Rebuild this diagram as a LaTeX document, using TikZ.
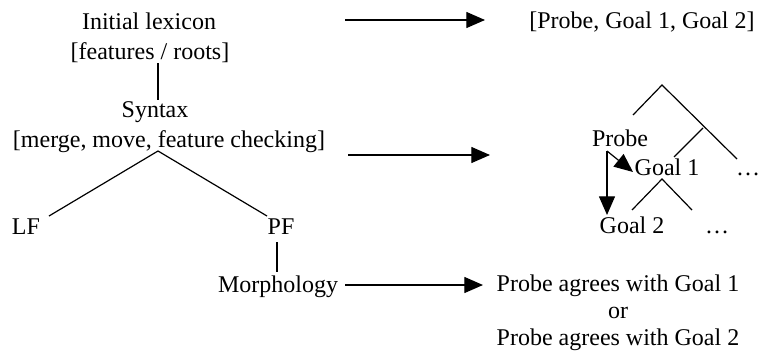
\documentclass[tikz,border=0pt]{standalone}
\usepackage{fontspec}
\setmainfont{Liberation Serif}
\usetikzlibrary{arrows.meta}
\begin{document}
\begin{tikzpicture}[x=0.75pt,y=-0.75pt,
  lbl/.style={font=\fontsize{18}{21}\selectfont, inner sep=0pt, anchor=base},
  ln/.style={line width=0.9pt},
  arr/.style={line width=0.9pt, -{Triangle[length=14pt,width=12pt]}}]
\useasboundingbox (0,0) rectangle (760,358);
% left derivation
\node[lbl] (lex1) at (149,29) {Initial lexicon};
\node[lbl] (lex2) at (150,59) {[features / roots]};
\node[lbl] (syn1) at (155,117) {Syntax};
\node[lbl] (syn2) at (169,147) {[merge, move, feature checking]};
\node[lbl] (lf) at (26,234) {LF};
\node[lbl] (pf) at (281,234) {PF};
\node[lbl] (morph) at (278,292) {Morphology};
\coordinate (l1a) at (158,63);
\coordinate (l1b) at (158,100);
\coordinate (apex) at (158,151);
\coordinate (lfend) at (49,216);
\coordinate (pfend) at (267,216);
\coordinate (p1a) at (277,242);
\coordinate (p1b) at (277,272);
\draw[ln] (l1a) -- (l1b);
\draw[ln] (lfend) -- (apex) -- (pfend);
\draw[ln] (p1a) -- (p1b);
% right side
\node[lbl] (pg) at (642,28) {[Probe, Goal 1, Goal 2]};
\node[lbl] (probe) at (620,146) {Probe};
\node[lbl] (goal1) at (667,175) {Goal 1};
\node[lbl] (dots1) at (748,175) {\dots};
\node[lbl] (goal2) at (632,233) {Goal 2};
\node[lbl] (dots2) at (717,233) {\dots};
\node[lbl] (agr1) at (618,291) {Probe agrees with Goal 1};
\node[lbl] (or) at (618,318) {or};
\node[lbl] (agr2) at (618,345) {Probe agrees with Goal 2};
% tree
\coordinate (t0) at (662,85);
\coordinate (tl) at (633,115);
\coordinate (tr) at (737,159);
\coordinate (t1) at (703,128);
\coordinate (t1l) at (674,157);
\coordinate (s0) at (662,179);
\coordinate (sl) at (632,210);
\coordinate (sr) at (692,210);
\draw[ln] (tl) -- (t0) -- (tr);
\draw[ln] (t1) -- (t1l);
\draw[ln] (sl) -- (s0) -- (sr);
% agree arrows
\coordinate (pstart) at (607,151);
\coordinate (g1tip) at (633,172);
\coordinate (g2tip) at (607,215);
\draw[arr] (pstart) -- (g1tip);
\draw[arr] (pstart) -- (g2tip);
% mapping arrows
\coordinate (a1s) at (345,20);
\coordinate (a1e) at (485,20);
\coordinate (a2s) at (348,155);
\coordinate (a2e) at (490,155);
\coordinate (a3s) at (345,285);
\coordinate (a3e) at (483,285);
\draw[arr] (a1s) -- (a1e);
\draw[arr] (a2s) -- (a2e);
\draw[arr] (a3s) -- (a3e);
\end{tikzpicture}
\end{document}
